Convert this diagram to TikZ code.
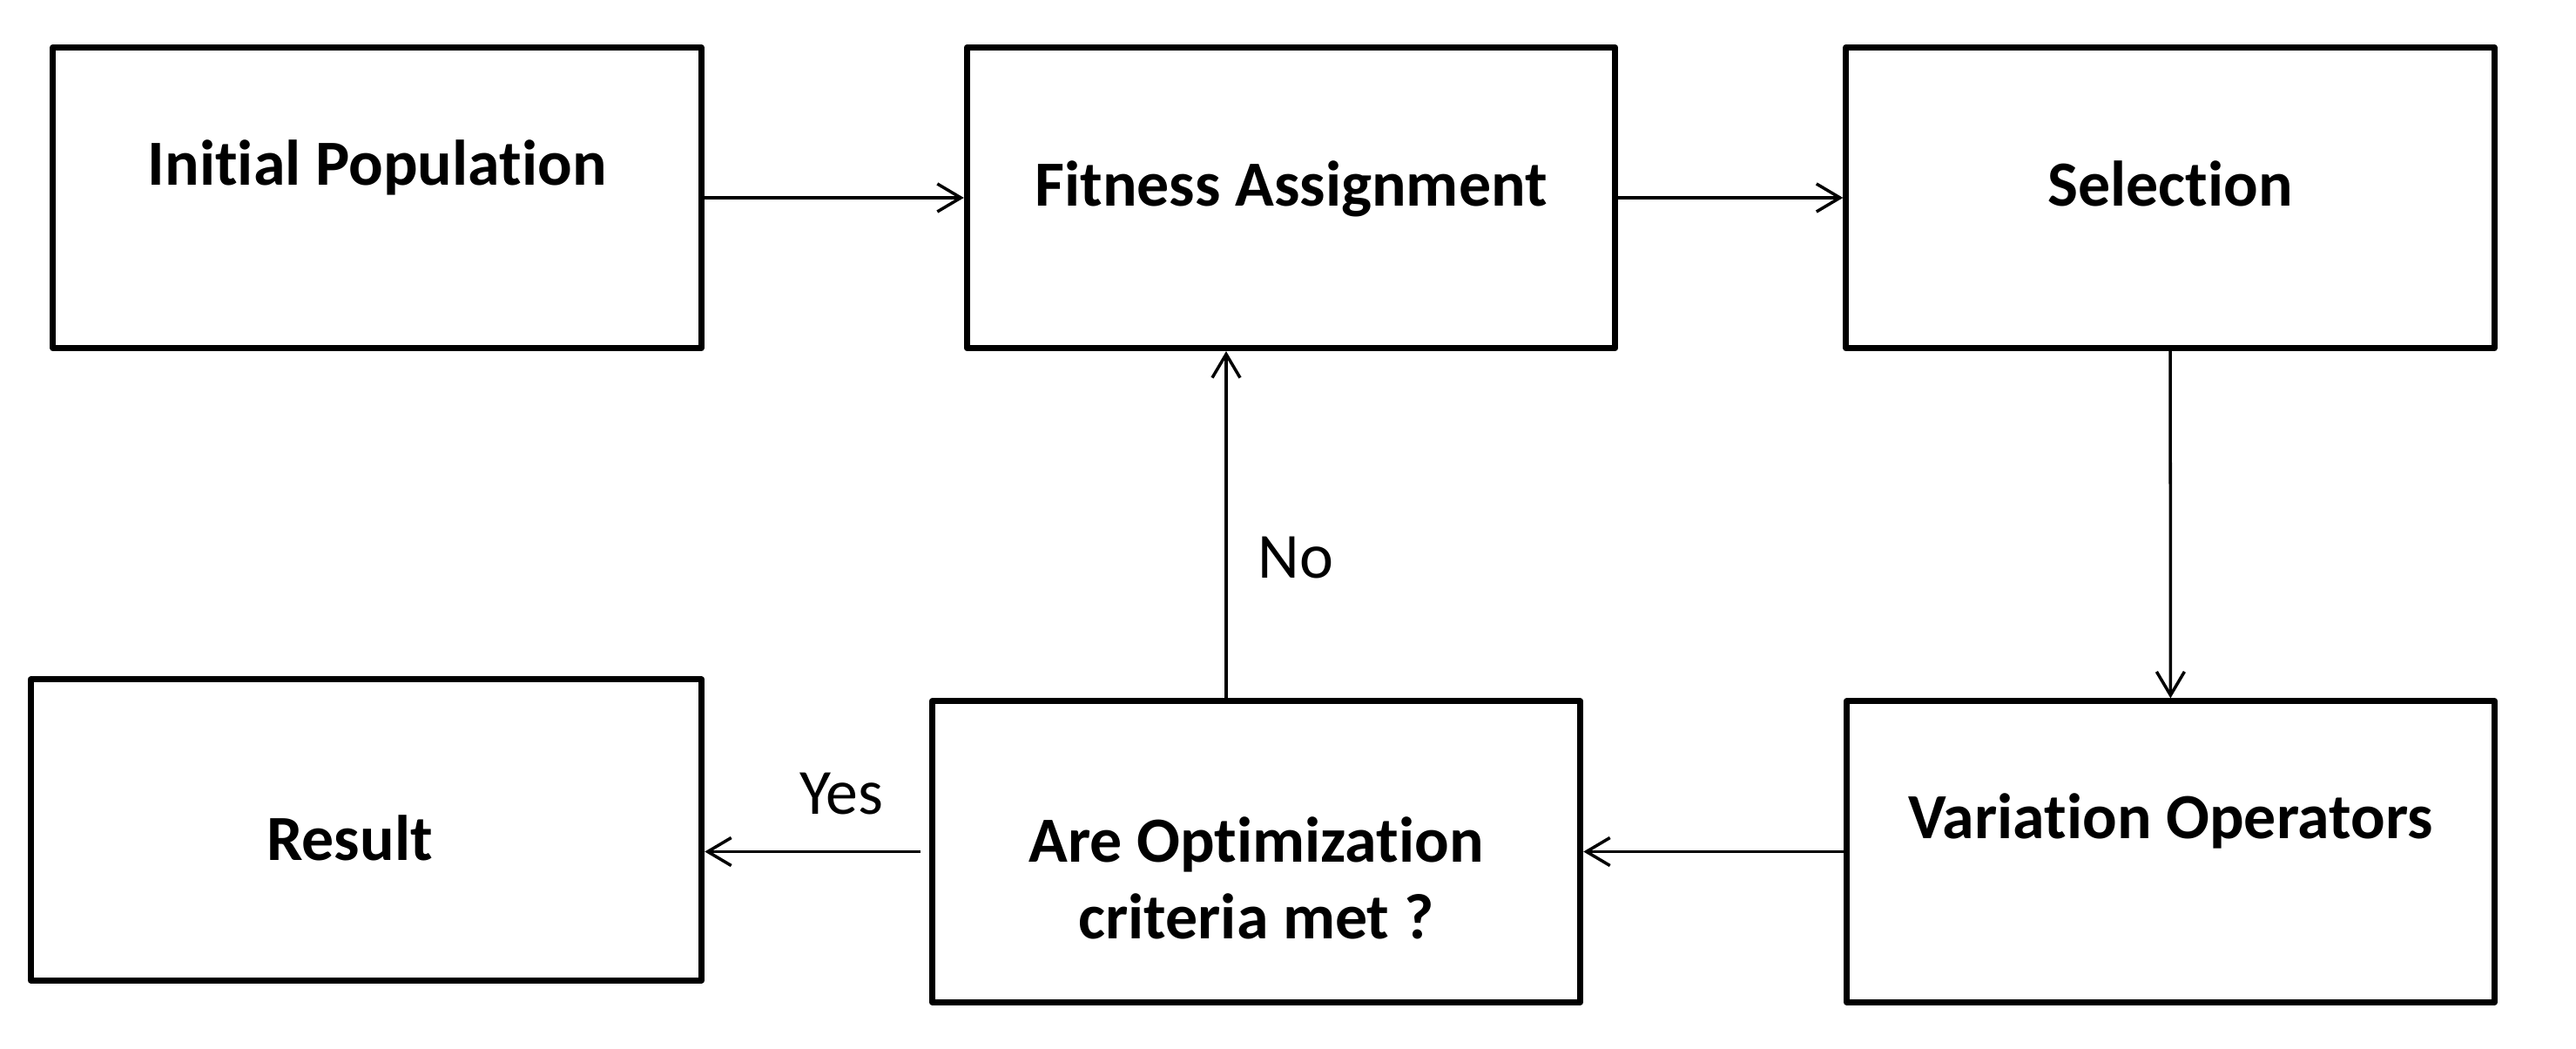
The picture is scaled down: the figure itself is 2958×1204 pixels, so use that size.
\documentclass[tikz,border=0pt]{standalone}
\usepackage{fontspec}
\setmainfont{Carlito}[Ligatures=NoCommon]
\usetikzlibrary{arrows.meta,positioning}

\begin{document}
\begin{tikzpicture}[x=0.01cm,y=-0.01cm,->,>={Straight Barb[length=0.27cm,width=0.32cm]},
                    line width=1pt]
  \tikzstyle{block}=[draw,line width=2pt,line join=round,minimum width=7.44cm,
                     minimum height=3.45cm,inner sep=0pt]
  \tikzstyle{blocktext}=[font=\bfseries\fontsize{21}{25}\selectfont,align=center,
                         text height=0pt,text depth=0pt,inner sep=0pt]
  \tikzstyle{answer}=[font=\fontsize{21}{25}\selectfont,inner sep=0pt]

  \useasboundingbox (0,0) rectangle (2958,1204);

  \node[block,label={[blocktext,yshift=0.145cm]center:Initial Population}] (init) at (433,227) {};
  \node[block,label={[blocktext,yshift=-0.095cm]center:Fitness Assignment}] (fit) at (1482.5,227) {};
  \node[block,label={[blocktext,yshift=-0.095cm]center:Selection}] (sel) at (2492,227) {};
  \node[block,label={[blocktext,yshift=0.145cm]center:Variation Operators}] (var) at (2492.5,977.5) {};
  \node[block,label={[blocktext,yshift=-0.995cm]center:Are Optimization\\criteria met ?}] (crit) at (1442.5,977.5) {};
  \node[block,minimum width=7.70cm,
        label={[blocktext,xshift=-0.19cm,yshift=-0.345cm]center:Result}] (res) at (420.5,952.5) {};

  \draw (init)--(fit);
  \draw (fit)--(sel);
  \draw (sel)--(var);
  \draw (var)--(crit);
  \draw ([xshift=-0.345cm]crit.north)--node[answer,right=0.35cm,pos=0.405] (no) {No}
        ([xshift=-0.345cm]crit.north |- fit.south);
  \draw[shorten <=0.1cm] (crit.west)--node[answer,above=0.41cm,pos=0.39] (yes) {Yes}
        (crit.west -| res.east);
\end{tikzpicture}
\end{document}
